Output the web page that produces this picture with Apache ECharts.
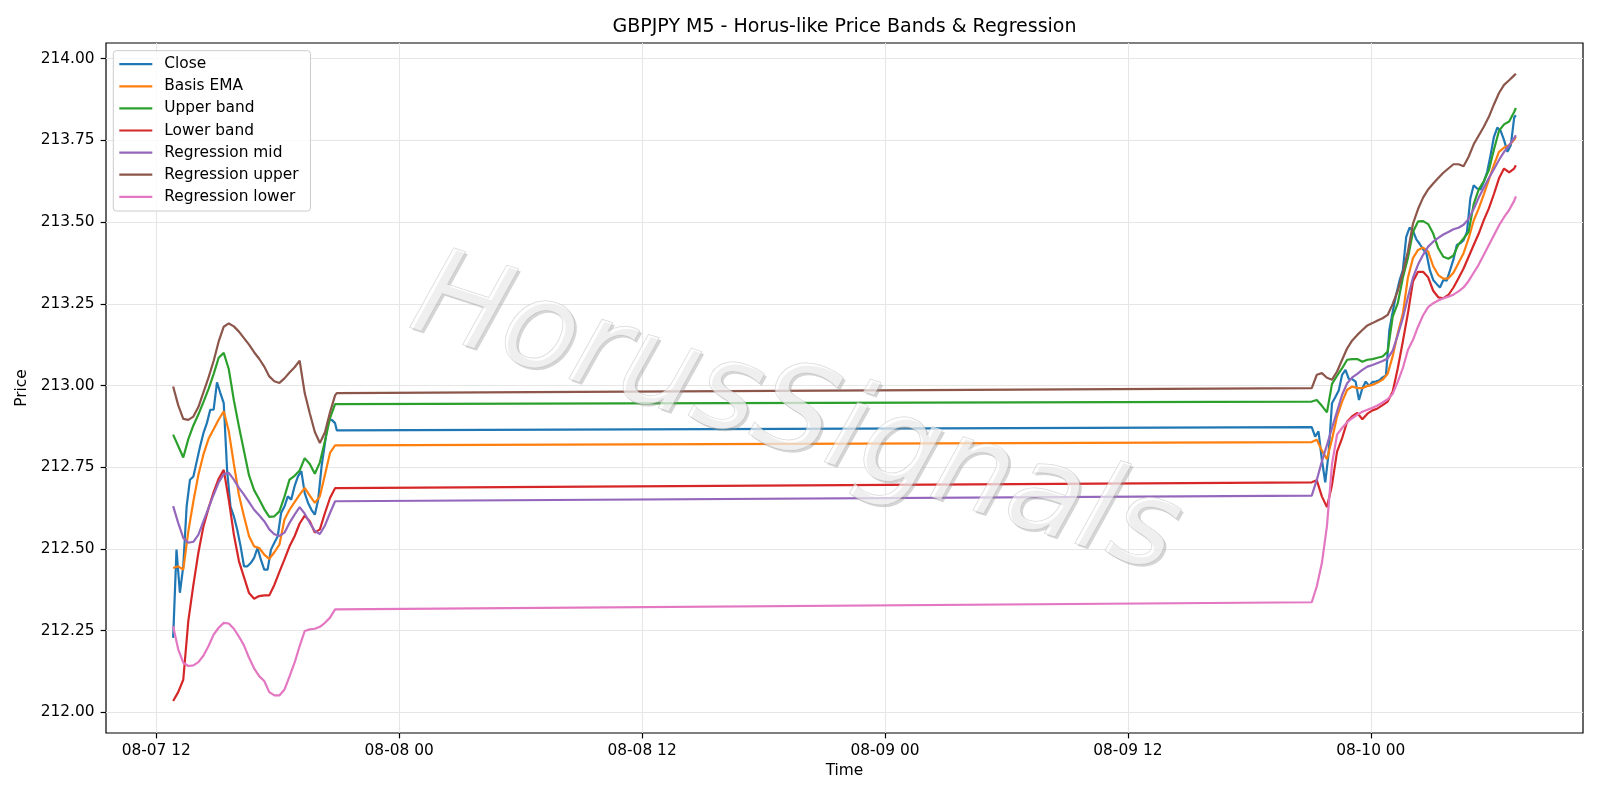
<!DOCTYPE html>
<html><head><meta charset="utf-8">
<script src="https://cdn.jsdelivr.net/npm/echarts@6/dist/echarts.min.js"></script>
<style>html,body{margin:0;padding:0;background:#fff}#c{width:1600px;height:800px}</style>
</head><body><div id="c"></div><script>
// ---------- time helpers (UTC) ----------
function ts(s){ return Date.parse(s.replace(' ','T') + ':00Z'); }
function bars(start, stepMin, count){ const t0 = ts(start); return Array.from({length:count}, (_, i) => t0 + i*stepMin*60000); }

// ---------- times ----------
const bandTimes = [...bars('2025-08-07 12:50', 15, 33), ts('2025-08-07 20:55'),
                   ...bars('2025-08-09 21:05', 15, 41), ts('2025-08-10 07:10')];
const closeTimes = [...bars('2025-08-07 12:50', 10, 49), ts('2025-08-07 20:55'),
                    ...bars('2025-08-09 21:05', 10, 61), ts('2025-08-10 07:10')];

// ---------- tick labels ----------
const xTickLabels = ['2025-08-07 12:00','2025-08-08 00:00','2025-08-08 12:00','2025-08-09 00:00','2025-08-09 12:00','2025-08-10 00:00'];
const yTicks = [212.00, 212.25, 212.50, 212.75, 213.00, 213.25, 213.50, 213.75, 214.00];

// ---------- series values ----------
const closeVals = [
 212.228,212.498,212.366,212.447,212.63,212.712,212.722,212.768,212.814,212.855,212.885,212.926,212.926,213.01,212.977,212.946,212.74,212.63,212.60,212.559,
 212.508,212.447,212.447,212.457,212.473,212.503,212.468,212.437,212.437,212.498,212.519,212.539,212.61,212.63,212.661,212.651,212.692,212.722,212.738,212.671,
 212.641,212.62,212.605,212.651,212.753,212.824,212.895,212.895,212.885,212.863,
 212.873,212.844,212.86,212.773,212.704,212.793,212.946,212.965,212.985,213.033,213.048,213.02,213.02,213.012,212.956,212.992,213.012,212.999,
 213.011,213.012,213.016,213.025,213.031,213.17,213.226,213.277,213.321,213.353,213.455,213.483,213.474,213.447,213.433,213.417,213.404,213.353,
 213.323,213.311,213.3,213.323,213.321,213.353,213.386,213.43,213.435,213.445,213.47,213.572,213.613,213.603,213.6,213.623,213.654,213.705,
 213.761,213.789,213.779,213.751,213.715,213.735,213.82,213.827];
const emaVals = [
 212.442,212.447,212.437,212.554,212.646,212.728,212.79,212.837,212.866,212.896,212.921,212.86,212.76,212.665,212.60,212.539,212.508,212.503,212.483,212.47,
 212.49,212.513,212.59,212.62,212.643,212.666,212.687,212.663,212.641,212.661,212.727,212.794,212.817,212.819,
 212.827,212.834,212.801,212.775,212.836,212.905,212.951,212.987,212.997,212.992,212.992,212.999,213.002,213.009,213.018,213.036,213.09,213.16,213.22,213.33,
 213.39,213.415,213.422,213.41,213.365,213.338,213.327,213.328,213.345,213.375,213.405,213.45,213.505,213.542,213.585,213.63,213.675,213.715,213.728,213.735,
 213.752,213.761];
const upperVals = [
 212.85,212.815,212.78,212.836,212.878,212.912,212.95,212.99,213.035,213.085,213.10,213.05,212.955,212.875,212.80,212.725,212.68,212.652,212.622,212.598,
 212.60,212.615,212.66,212.712,212.724,212.74,212.778,212.76,212.73,212.765,212.83,212.9,212.943,212.946,
 212.951,212.956,212.938,212.918,213.005,213.03,213.053,213.079,213.081,213.081,213.073,213.079,213.081,213.085,213.089,213.104,213.211,213.252,213.33,213.39,
 213.47,213.502,213.503,213.494,213.465,213.42,213.394,213.388,213.398,213.432,213.45,213.47,213.555,213.6,213.625,213.659,213.722,213.779,213.799,213.808,
 213.837,213.849];
const lowerVals = [
 212.035,212.062,212.10,212.28,212.39,212.49,212.57,212.625,212.674,212.715,212.742,212.65,212.544,212.463,212.414,212.365,212.348,212.356,212.358,212.358,
 212.39,212.43,212.468,212.508,212.539,212.578,212.602,212.585,212.55,212.56,212.61,212.656,212.686,212.69,
 212.704,212.71,212.661,212.628,212.696,212.798,212.839,212.89,212.906,212.916,212.897,212.914,212.924,212.93,212.94,212.951,212.982,213.053,213.135,213.221,
 213.318,213.348,213.348,213.331,213.29,213.27,213.267,213.277,213.30,213.328,213.358,213.394,213.43,213.465,213.506,213.542,213.586,213.634,213.664,213.652,
 213.664,213.674];
const regMidVals = [
 212.631,212.58,212.534,212.519,212.522,212.544,212.585,212.626,212.666,212.704,212.729,212.733,212.712,212.687,212.666,212.643,212.62,212.603,212.585,212.56,
 212.545,212.54,212.55,212.58,212.605,212.628,212.608,212.58,212.555,212.546,212.572,212.61,212.646,212.651,
 212.663,212.712,212.768,212.818,212.87,212.921,212.972,213.007,213.025,213.036,213.048,213.058,213.063,213.069,213.075,213.083,213.107,213.155,213.206,213.27,
 213.33,213.37,213.40,213.425,213.44,213.452,213.462,213.47,213.478,213.483,213.492,213.51,213.54,213.575,213.605,213.635,213.662,213.69,213.715,213.735,
 213.757,213.766];
const regUpperVals = [
 212.997,212.94,212.898,212.895,212.905,212.935,212.98,213.025,213.075,213.135,213.18,213.19,213.181,213.165,213.145,213.125,213.102,213.082,213.058,213.028,
 213.013,213.008,213.022,213.04,213.056,213.076,212.977,212.915,212.858,212.824,212.857,212.918,212.97,212.977,
 212.992,213.033,213.038,213.024,213.018,213.043,213.079,213.114,213.138,213.155,213.17,213.184,213.191,213.199,213.206,213.216,213.25,213.29,213.345,213.41,
 213.495,213.54,213.575,213.6,213.618,213.635,213.651,213.664,213.677,213.677,213.671,213.70,213.738,213.765,213.792,213.822,213.86,213.895,213.92,213.934,
 213.949,213.954];
const regLowerVals = [
 212.264,212.193,212.152,212.142,212.144,212.154,212.174,212.203,212.238,212.259,212.274,212.272,212.256,212.232,212.205,212.167,212.135,212.111,212.096,212.062,
 212.052,212.052,212.07,212.11,212.152,212.203,212.249,212.254,212.256,212.262,212.274,212.29,212.315,212.32,
 212.337,212.386,212.457,212.57,212.76,212.85,212.87,212.888,212.9,212.911,212.92,212.926,212.932,212.939,212.948,212.958,212.975,213.012,213.053,213.109,
 213.14,213.18,213.215,213.24,213.252,213.26,213.267,213.272,213.278,213.288,213.30,213.32,213.345,213.37,213.40,213.43,213.46,213.49,213.515,213.537,
 213.565,213.579];

const seriesDefs = [
 {name:'Close',            color:'#1f77b4', times:closeTimes, vals:closeVals},
 {name:'Basis EMA',        color:'#ff7f0e', times:bandTimes,  vals:emaVals},
 {name:'Upper band',       color:'#2ca02c', times:bandTimes,  vals:upperVals},
 {name:'Lower band',       color:'#d62728', times:bandTimes,  vals:lowerVals},
 {name:'Regression mid',   color:'#9467bd', times:bandTimes,  vals:regMidVals},
 {name:'Regression upper', color:'#8c564b', times:bandTimes,  vals:regUpperVals},
 {name:'Regression lower', color:'#e377c2', times:bandTimes,  vals:regLowerVals}
];

const FONT = 'DejaVu Sans';
const FS = 15.4;
const xTicks = xTickLabels.map(ts);
function pad(n){ return (n < 10 ? '0' : '') + n; }
function fmtX(v){ const d = new Date(v); return pad(d.getUTCMonth()+1) + '-' + pad(d.getUTCDate()) + ' ' + pad(d.getUTCHours()); }

const chart = echarts.init(document.getElementById('c'), null, {renderer:'canvas'});
chart.setOption({
  animation: false,
  backgroundColor: '#ffffff',
  grid: {left:106, right:17, top:43, bottom:67, show:true, borderColor:'#000', borderWidth:1.2, backgroundColor:'transparent'},
  xAxis: {
    type:'value', min: ts('2025-08-07 09:31'), max: ts('2025-08-10 10:29'),
    name:'Time', nameLocation:'middle', nameGap:30,
    nameTextStyle:{fontSize:FS, color:'#000', fontFamily:FONT},
    axisLine:{show:false},
    axisTick:{show:true, length:5.4, lineStyle:{color:'#000', width:1.2}, customValues:xTicks},
    axisLabel:{customValues:xTicks, formatter:fmtX, margin:10.5, color:'#000', fontSize:FS, fontFamily:FONT},
    splitLine:{show:true, lineStyle:{color:'#e6e6e6', width:1.1}}
  },
  yAxis: {
    type:'value', min:211.937, max:214.048,
    name:'Price', nameLocation:'middle', nameGap:69,
    nameTextStyle:{fontSize:FS, color:'#000', fontFamily:FONT},
    axisLine:{show:false},
    axisTick:{show:true, length:5.4, lineStyle:{color:'#000', width:1.2}, customValues:yTicks},
    axisLabel:{customValues:yTicks, formatter:v => v.toFixed(2), margin:11.5, color:'#000', fontSize:FS, fontFamily:FONT},
    splitLine:{show:true, lineStyle:{color:'#e6e6e6', width:1.1}}
  },
  legend: {
    orient:'vertical', left:113.3, top:50.7, itemWidth:33, itemHeight:16, itemGap:7.1,
    icon:'path://M0,0 H30 V2 H0 Z',
    padding:[6, 12, 6.7, 6], backgroundColor:'rgba(255,255,255,0.8)', borderColor:'#cccccc', borderWidth:1, borderRadius:3,
    textStyle:{fontSize:FS, color:'#000', fontFamily:FONT, padding:[0,0,0,7]},
    data: seriesDefs.map(s => s.name)
  },
  graphic: [
    {type:'text', z:100, x:844.5, y:27, style:{text:'GBPJPY M5 - Horus-like Price Bands & Regression', fontSize:19, fontFamily:FONT, fill:'#000', align:'center', verticalAlign:'middle'}},
    {type:'text', z:101, x:797.5, y:421.5, rotation:-18*Math.PI/180,
      style:{text:'HorusSignals', fontSize:122, fontFamily:FONT, fontStyle:'italic', fill:'rgba(150,150,150,0.4)', align:'center', verticalAlign:'middle'}},
    {type:'text', z:102, x:795, y:419, rotation:-18*Math.PI/180,
      style:{text:'HorusSignals', fontSize:122, fontFamily:FONT, fontStyle:'italic', fill:'rgba(255,255,255,0.62)', stroke:'rgba(175,175,175,0.55)', lineWidth:1, align:'center', verticalAlign:'middle'}}
  ],
  series: seriesDefs.map(s => ({
    name:s.name, type:'line', symbol:'none', showSymbol:false, silent:true,
    lineStyle:{color:s.color, width:2.2}, itemStyle:{color:s.color},
    data: s.times.map((t, i) => [t, s.vals[i]])
  }))
});
</script></body></html>
